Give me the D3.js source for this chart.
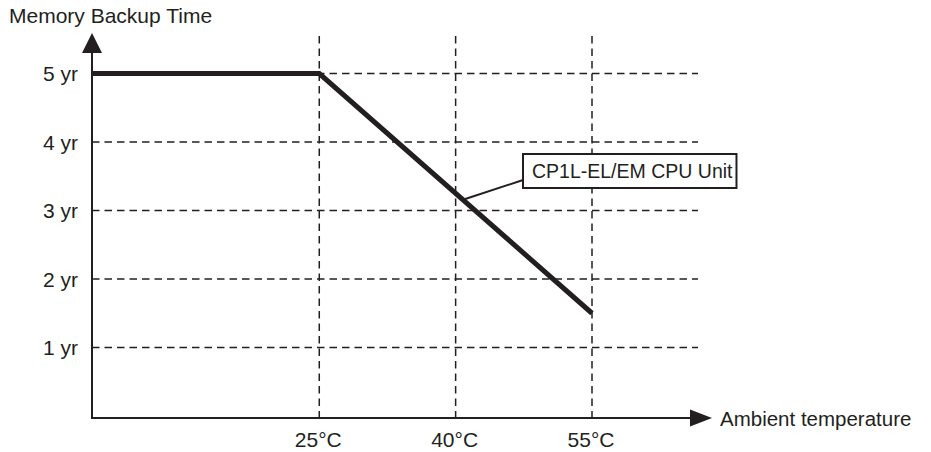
<!DOCTYPE html>
<html>
<head>
<meta charset="utf-8">
<script src="https://cdn.jsdelivr.net/npm/d3@7"></script>
<style>
  body { margin: 0; background: #fff; }
  svg text { font-family: "Liberation Sans", Arial, sans-serif; fill: #231f20; }
</style>
</head>
<body>
<div id="chart"></div>
<script>
// chart values
var temps = [0, 25, 55];            // ambient temperature, degC
var backupYears = [5, 5, 1.5];      // memory backup time, years
var xTicks = [25, 40, 55];
var xTickLabels = ["25°C", "40°C", "55°C"];
var yTicks = [1, 2, 3, 4, 5];
var yTickLabels = ["1 yr", "2 yr", "3 yr", "4 yr", "5 yr"];
var seriesName = "CP1L-EL/EM CPU Unit";
var labelTemp = 40.8;               // where the callout touches the line

var W = 931, H = 452;
var ink = "#231f20";

var svg = d3.select("#chart")
    .append("svg")
    .attr("width", W)
    .attr("height", H);

// scales
var x = d3.scaleLinear().domain([0, 55]).range([92, 592]);
var y = d3.scaleLinear().domain([0, 5]).range([416, 73.5]);
var axisY = 418, axisTop = 36, axisRight = 712, gridRight = 698;

// dashed grid
svg.append("g")
    .selectAll("line")
    .data(yTicks)
    .enter()
    .append("line")
    .attr("x1", x(0))
    .attr("x2", gridRight)
    .attr("y1", function (d) { return y(d); })
    .attr("y2", function (d) { return y(d); })
    .attr("stroke", ink)
    .attr("stroke-width", 1.5)
    .attr("stroke-dasharray", "7.5,5");

svg.append("g")
    .selectAll("line")
    .data(xTicks)
    .enter()
    .append("line")
    .attr("x1", function (d) { return x(d); })
    .attr("x2", function (d) { return x(d); })
    .attr("y1", axisTop)
    .attr("y2", axisY)
    .attr("stroke", ink)
    .attr("stroke-width", 1.5)
    .attr("stroke-dasharray", "7.5,5");

// axes with arrow heads
svg.append("line")
    .attr("x1", x(0)).attr("x2", x(0))
    .attr("y1", axisY + 1).attr("y2", 50)
    .attr("stroke", ink).attr("stroke-width", 2);
svg.append("line")
    .attr("x1", x(0) - 1).attr("x2", axisRight - 18)
    .attr("y1", axisY).attr("y2", axisY)
    .attr("stroke", ink).attr("stroke-width", 2);

svg.append("path")
    .attr("d", "M" + x(0) + ",33 L" + (x(0) + 10) + ",53 L" + (x(0) - 10) + ",53 Z")
    .attr("fill", ink);
svg.append("path")
    .attr("d", "M" + axisRight + "," + axisY + " L" + (axisRight - 22) + "," + (axisY - 8.5) + " L" + (axisRight - 22) + "," + (axisY + 8.5) + " Z")
    .attr("fill", ink);

// tick labels
svg.append("g")
    .selectAll("text")
    .data(yTicks)
    .enter()
    .append("text")
    .attr("x", 78)
    .attr("y", function (d) { return y(d) + 7.5; })
    .attr("text-anchor", "end")
    .style("font-size", "21px")
    .text(function (d, i) { return yTickLabels[i]; });

svg.append("g")
    .selectAll("text")
    .data(xTicks)
    .enter()
    .append("text")
    .attr("x", function (d) { return x(d) - 1; })
    .attr("y", axisY + 29)
    .attr("text-anchor", "middle")
    .style("font-size", "21px")
    .text(function (d, i) { return xTickLabels[i]; });

// axis titles
svg.append("text")
    .attr("x", 9)
    .attr("y", 23)
    .style("font-size", "21px")
    .text("Memory Backup Time");
svg.append("text")
    .attr("x", 720)
    .attr("y", axisY + 7.5)
    .style("font-size", "20.5px")
    .text("Ambient temperature");

// the series line
var pts = temps.map(function (t, i) { return [t, backupYears[i]]; });
svg.append("path")
    .datum(pts)
    .attr("fill", "none")
    .attr("stroke", ink)
    .attr("stroke-width", 5)
    .attr("stroke-linejoin", "miter")
    .attr("d", d3.line()
        .x(function (d) { return x(d[0]); })
        .y(function (d) { return y(d[1]); })
    );

// callout: leader line + boxed label
var seg = d3.bisectLeft(temps, labelTemp) - 1;
var f = (labelTemp - temps[seg]) / (temps[seg + 1] - temps[seg]);
var labelVal = backupYears[seg] + f * (backupYears[seg + 1] - backupYears[seg]);
var ax = x(labelTemp), ay = y(labelVal);

var boxX = 523, boxY = 154, boxH = 34;

svg.append("line")
    .attr("x1", ax).attr("y1", ay)
    .attr("x2", boxX).attr("y2", boxY + 26)
    .attr("stroke", ink)
    .attr("stroke-width", 2);

var label = svg.append("g");
var rect = label.append("rect")
    .attr("x", boxX)
    .attr("y", boxY)
    .attr("height", boxH)
    .attr("fill", "#fff")
    .attr("stroke", ink)
    .attr("stroke-width", 2);
var txt = label.append("text")
    .attr("x", boxX + 9)
    .attr("y", boxY + 24)
    .style("font-size", "19.5px")
    .text(seriesName);
rect.attr("width", txt.node().getComputedTextLength() + 13);
</script>
</body>
</html>
